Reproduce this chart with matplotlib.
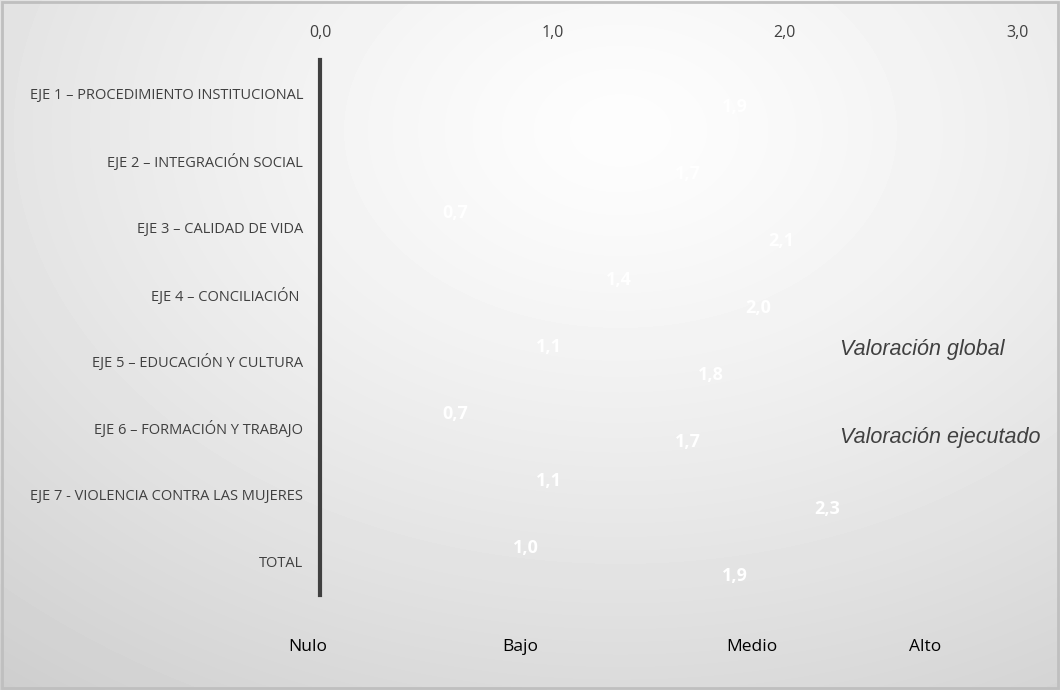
import numpy as np
import matplotlib
matplotlib.use("Agg")
import matplotlib.pyplot as plt
from matplotlib.patches import Rectangle

# data
categories = [
    "EJE 1 – PROCEDIMIENTO INSTITUCIONAL",
    "EJE 2 – INTEGRACIÓN SOCIAL",
    "EJE 3 – CALIDAD DE VIDA",
    "EJE 4 – CONCILIACIÓN ",
    "EJE 5 – EDUCACIÓN Y CULTURA",
    "EJE 6 – FORMACIÓN Y TRABAJO",
    "EJE 7 - VIOLENCIA CONTRA LAS MUJERES",
    "TOTAL",
]
global_vals = [np.nan, np.nan, 0.7, 1.4, 1.1, 0.7, 1.1, 1.0]
ejecutado_vals = [1.9, 1.7, 2.1, 2.0, 1.8, 1.7, 2.3, 1.9]
xticks = [0, 1, 2, 3]
xtick_labels = ["0,0", "1,0", "2,0", "3,0"]
levels = ["Nulo", "Bajo", "Medio", "Alto"]

W, H = 1060, 690
fig = plt.figure(figsize=(W / 100, H / 100), dpi=100)

# radial grey background (soft white centre near the top)
bg = fig.add_axes([0, 0, 1, 1], zorder=-10)
yy, xx = np.mgrid[0:H, 0:W]
d = np.sqrt(((xx - 620) / 1.4) ** 2 + (yy - 130) ** 2)
shade = np.clip(253 - 38 * (d / 600) ** 1.3, 205, 255) / 255
bg.imshow(shade, cmap="gray", vmin=0, vmax=1, aspect="auto", extent=[0, 1, 0, 1])
bg.axis("off")
fig.patches.append(Rectangle((0.002, 0.003), 0.996, 0.994, transform=fig.transFigure,
                             fill=False, edgecolor="#bfbfbf", lw=2))

ax = fig.add_axes([320 / W, 1 - 595 / H, 697 / W, 535 / H])
ax.patch.set_alpha(0)

y = np.arange(len(categories))
h = 0.42
bars_g = ax.barh(y - h / 2, global_vals, height=h, color="white", alpha=0.0)
bars_e = ax.barh(y + h / 2, ejecutado_vals, height=h, color="white", alpha=0.0)

lbl_font = dict(color="white", fontsize=13, fontweight="bold", family="Open Sans")
for bars, vals in [(bars_g, global_vals), (bars_e, ejecutado_vals)]:
    for b, v in zip(bars, vals):
        if np.isnan(v):
            continue
        ax.annotate(f"{v:.1f}".replace(".", ","), (v, b.get_y() + b.get_height() / 2),
                    xytext=(-10, 0), textcoords="offset points",
                    ha="right", va="center", **lbl_font)

ax.set_xlim(0, 3)
ax.set_ylim(len(categories) - 0.5, -0.5)
ax.set_yticks(y)
ax.set_yticklabels(categories, fontsize=10.5, color="#404040", family="Open Sans")
ax.set_xticks(xticks)
ax.set_xticklabels(xtick_labels, fontsize=11.5, color="#404040", family="Open Sans")
ax.xaxis.tick_top()
ax.tick_params(axis="x", length=0, pad=14)
ax.tick_params(axis="y", length=0, pad=12)
for s in ["top", "right", "bottom"]:
    ax.spines[s].set_visible(False)
ax.spines["left"].set_color("#404040")
ax.spines["left"].set_linewidth(3)

# level labels along the bottom
for txt, px in zip(levels, [308, 520, 752, 925]):
    fig.text(px / W, 1 - 647 / H, txt, ha="center", va="center", fontsize=12.5,
             color="#000000", family="Open Sans")

# series captions
fig.text(840 / W, 1 - 350 / H, "Valoración global", fontsize=15.5, style="italic",
         color="#404040", family="Liberation Sans", va="center")
fig.text(840 / W, 1 - 437 / H, "Valoración ejecutado", fontsize=15.5, style="italic",
         color="#404040", family="Liberation Sans", va="center")

fig.savefig("out.png", dpi=100)
